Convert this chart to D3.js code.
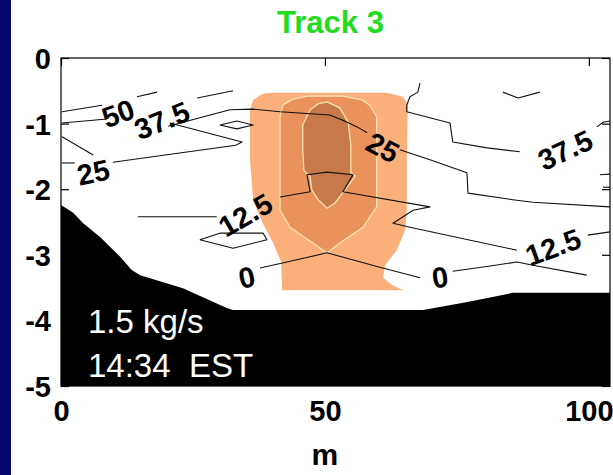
<!DOCTYPE html>
<html>
<head>
<meta charset="utf-8">
<script src="https://cdn.jsdelivr.net/npm/d3@7"></script>
<style>
  html, body { margin: 0; padding: 0; background: #ffffff; }
  svg { display: block; }
  text { font-family: "Liberation Sans", Arial, sans-serif; }
</style>
</head>
<body>
<svg id="chart" width="613" height="475"></svg>
<script>
// Section geometry: distance across the track (m) and depth (m)
const xTicks = [0, 50, 100];
const yTicks = [0, -1, -2, -3, -4, -5];
const xDomain = [0, 104];
const yDomain = [0, -5];

// Bottom profile (x, depth)
const bottomProfile = [
  [0, -2.24], [2.3, -2.36], [4.2, -2.52], [7.4, -2.73], [11.2, -3.03],
  [13.4, -3.23], [15.0, -3.31], [23.1, -3.51], [31.4, -3.81], [32.6, -3.84],
  [68.6, -3.84], [77.0, -3.72], [85.6, -3.58], [104, -3.58]
];

// Filled concentration bands: outer, middle, core
const bandOuter = [
  [36.4, -0.64], [38.1, -0.55], [39.6, -0.53], [61.7, -0.53], [64.8, -0.59],
  [65.7, -0.72], [65.5, -1.55], [65.5, -2.32], [65.2, -2.62], [63.6, -2.93],
  [61.4, -3.16], [61.0, -3.35], [62.7, -3.46], [64.8, -3.54], [41.9, -3.54],
  [41.7, -3.11], [40.2, -2.82], [38.1, -2.50], [36.4, -2.16], [35.8, -1.55],
  [35.8, -0.79]
];
const bandMiddle = [
  [41.5, -0.90], [42.0, -0.72], [43.8, -0.63], [46.6, -0.58], [53.4, -0.58],
  [57.0, -0.64], [58.5, -0.72], [59.8, -0.90], [59.8, -2.27], [57.2, -2.58],
  [52.8, -2.82], [50.4, -2.97], [47.7, -2.82], [43.4, -2.58], [41.5, -2.32]
];
const bandCore = [
  [50.4, -0.67], [52.8, -0.76], [54.4, -0.98], [54.9, -1.33], [54.9, -1.74],
  [55.7, -1.80], [53.8, -2.01], [51.9, -2.21], [50.4, -2.29], [48.7, -2.16],
  [47.5, -2.01], [47.2, -1.81], [46.0, -1.71], [45.8, -1.40], [45.8, -1.02],
  [47.2, -0.79], [48.7, -0.70]
];

// Velocity contour segments, grouped by level (x, depth)
const level50 = [
  [[0.2, -0.82], [7.8, -0.72]],
  [[14.4, -0.59], [18.2, -0.52]],
  [[25.8, -0.61], [32.6, -0.50]]
];
const level375 = [
  [[0.2, -0.99], [8.7, -0.93]],
  [[68.0, -0.38], [67.6, -0.52], [66.1, -0.59], [65.5, -0.72], [65.5, -0.82],
   [73.7, -0.99], [74.2, -1.28], [80.7, -1.37], [86.9, -1.43]],
  [[101.5, -1.05], [102.7, -0.98], [104, -0.96]],
  [[83.7, -0.52], [86.6, -0.61], [90.7, -0.52]],
  [[30.1, -1.02], [33.3, -0.96], [36.4, -1.02], [33.3, -1.08], [30.1, -1.02]]
];
const level25 = [
  [[20.3, -1.04], [26.3, -0.91], [32.0, -0.79], [36.4, -0.78], [41.5, -0.82],
   [50.9, -0.87], [53.4, -0.95], [56.1, -1.05], [58.0, -1.14]],
  [[64.2, -1.40], [69.9, -1.55], [76.9, -1.75], [77.1, -2.06], [85.6, -2.16],
   [89.4, -2.20], [104, -2.27]],
  [[20.6, -0.99], [34.3, -1.28], [33.1, -1.33], [9.8, -1.59]],
  [[0.2, -1.20], [6.1, -1.48]],
  [[0.2, -1.60], [2.6, -1.60]]
];
const level125 = [
  [[14.6, -2.42], [29.5, -2.42]],
  [[41.5, -2.12], [47.2, -2.04], [46.6, -1.78], [50.4, -1.74], [55.3, -1.78],
   [53.4, -2.04], [69.9, -2.27], [66.7, -2.32], [62.9, -2.52], [66.1, -2.58],
   [86.4, -2.93]],
  [[99.8, -2.70], [104, -2.65]],
  [[26.3, -2.77], [30.1, -2.67], [38.3, -2.67], [39.0, -2.77], [32.6, -2.90], [26.3, -2.77]],
  [[102.1, -1.78], [104, -1.77]],
  [[102.7, -1.97], [104, -1.97]]
];
const level0 = [
  [[37.7, -3.20], [42.8, -3.11], [50.4, -2.97], [60.4, -3.19], [68.0, -3.35]],
  [[74.2, -3.25], [81.3, -3.17], [86.4, -3.11], [89.4, -3.16], [99.6, -3.31]]
];

// Inline contour labels: text, x, depth, orientation along the line (deg)
const contourLabels = [
  ["50", 10.8, -0.84, -20],
  ["37.5", 19.1, -0.95, -22],
  ["25", 6.1, -1.74, -12],
  ["25", 61.0, -1.36, 28],
  ["12.5", 34.9, -2.39, -30],
  ["0", 35.2, -3.34, -12],
  ["0", 71.8, -3.34, -8],
  ["12.5", 93.2, -2.88, -20],
  ["37.5", 95.5, -1.40, -25]
];

const titleText = "Track 3";
const xLabel = "m";
const infoLines = ["1.5 kg/s", "14:34\u00a0\u00a0EST"];

// ---------------------------------------------------------------
const svg = d3.select("#chart");
const W = 613, H = 475;
const plot = { left: 61, right: 610, top: 58, bottom: 386 };

const x = d3.scaleLinear().domain(xDomain).range([plot.left, plot.right]);
const y = d3.scaleLinear().domain(yDomain).range([plot.top, plot.bottom]);

// page background and the navy strip on the left edge
svg.append("rect").attr("width", W).attr("height", H).attr("fill", "#ffffff");
svg.append("rect").attr("x", 0).attr("y", 0).attr("width", 11).attr("height", H).attr("fill", "#07066c");

svg.append("defs").append("clipPath").attr("id", "plotClip")
  .append("rect")
  .attr("x", plot.left).attr("y", plot.top)
  .attr("width", plot.right - plot.left).attr("height", plot.bottom - plot.top);

const g = svg.append("g").attr("clip-path", "url(#plotClip)");
g.append("rect")
  .attr("x", plot.left).attr("y", plot.top)
  .attr("width", plot.right - plot.left).attr("height", plot.bottom - plot.top)
  .attr("fill", "#ffffff");

const area = d3.line().x(d => x(d[0])).y(d => y(d[1])).curve(d3.curveLinearClosed);
const line = d3.line().x(d => x(d[0])).y(d => y(d[1]));

// concentration bands
g.append("path").attr("d", area(bandOuter)).attr("fill", "#fbb07b");
g.append("path").attr("d", area(bandMiddle)).attr("fill", "#e9925c")
  .attr("stroke", "#f6e3b4").attr("stroke-width", 1.3);
g.append("path").attr("d", area(bandCore)).attr("fill", "#c7794a")
  .attr("stroke", "#f6e3b4").attr("stroke-width", 1.3);

// velocity contours
const levels = [level50, level375, level25, level125, level0];
levels.forEach(segs => {
  g.selectAll(null).data(segs).enter().append("path")
    .attr("d", line)
    .attr("fill", "none")
    .attr("stroke", "#111111")
    .attr("stroke-width", 1.1)
    .attr("stroke-linejoin", "round");
});

g.selectAll("text.clabel").data(contourLabels).enter().append("text")
  .attr("class", "clabel")
  .attr("transform", d => `translate(${x(d[1])},${y(d[2])}) rotate(${d[3]})`)
  .attr("text-anchor", "middle")
  .attr("dy", "0.36em")
  .attr("font-size", 29)
  .attr("font-weight", "bold")
  .attr("fill", "#000000")
  .text(d => d[0]);

// bottom (bathymetry)
const bottomPoly = bottomProfile.concat([[xDomain[1], yDomain[1]], [xDomain[0], yDomain[1]]]);
g.append("path").attr("d", area(bottomPoly)).attr("fill", "#000000");

// info text on the bottom
g.selectAll("text.info").data(infoLines).enter().append("text")
  .attr("class", "info")
  .attr("x", plot.left + 27)
  .attr("y", (d, i) => 333 + i * 44)
  .attr("font-size", 33)
  .attr("fill", "#ffffff")
  .text(d => d);

// frame
svg.append("rect")
  .attr("x", plot.left).attr("y", plot.top)
  .attr("width", plot.right - plot.left).attr("height", plot.bottom - plot.top)
  .attr("fill", "none").attr("stroke", "#000000").attr("stroke-width", 1.2);

// axes with inward ticks
const axisStyle = sel => {
  sel.select(".domain").remove();
  sel.selectAll(".tick line").attr("stroke", "#000000").attr("stroke-width", 1.2);
};
svg.append("g").attr("transform", `translate(0,${plot.top})`)
  .call(d3.axisTop(x).tickValues(xTicks).tickSizeInner(-8).tickSizeOuter(0).tickFormat(""))
  .call(axisStyle);
svg.append("g").attr("transform", `translate(${plot.right},0)`)
  .call(d3.axisRight(y).tickValues(yTicks).tickSizeInner(-8).tickSizeOuter(0).tickFormat(""))
  .call(axisStyle);

const xAxis = svg.append("g").attr("transform", `translate(0,${plot.bottom})`)
  .call(d3.axisBottom(x).tickValues(xTicks).tickSizeInner(-8).tickSizeOuter(0).tickFormat(d3.format("d")))
  .call(axisStyle);
xAxis.selectAll(".tick text")
  .attr("y", 35).attr("dy", 0)
  .attr("font-size", 29).attr("font-weight", "bold")
  .attr("font-family", "Liberation Sans, Arial, sans-serif")
  .attr("fill", "#000000");

const yAxis = svg.append("g").attr("transform", `translate(${plot.left},0)`)
  .call(d3.axisLeft(y).tickValues(yTicks).tickSizeInner(-8).tickSizeOuter(0).tickFormat(d => d === 0 ? "0" : "-" + Math.abs(d)))
  .call(axisStyle);
yAxis.selectAll(".tick text")
  .attr("x", -10).attr("dy", "0.36em")
  .attr("font-size", 29).attr("font-weight", "bold")
  .attr("font-family", "Liberation Sans, Arial, sans-serif")
  .attr("fill", "#000000");

// title and x label
svg.append("text")
  .attr("x", (plot.left + 600) / 2).attr("y", 33)
  .attr("text-anchor", "middle")
  .attr("font-size", 31).attr("font-weight", "bold")
  .attr("fill", "#1fdc1f")
  .text(titleText);

svg.append("text")
  .attr("x", x(50)).attr("y", 465)
  .attr("text-anchor", "middle")
  .attr("font-size", 30).attr("font-weight", "bold")
  .attr("fill", "#000000")
  .text(xLabel);
</script>
</body>
</html>
